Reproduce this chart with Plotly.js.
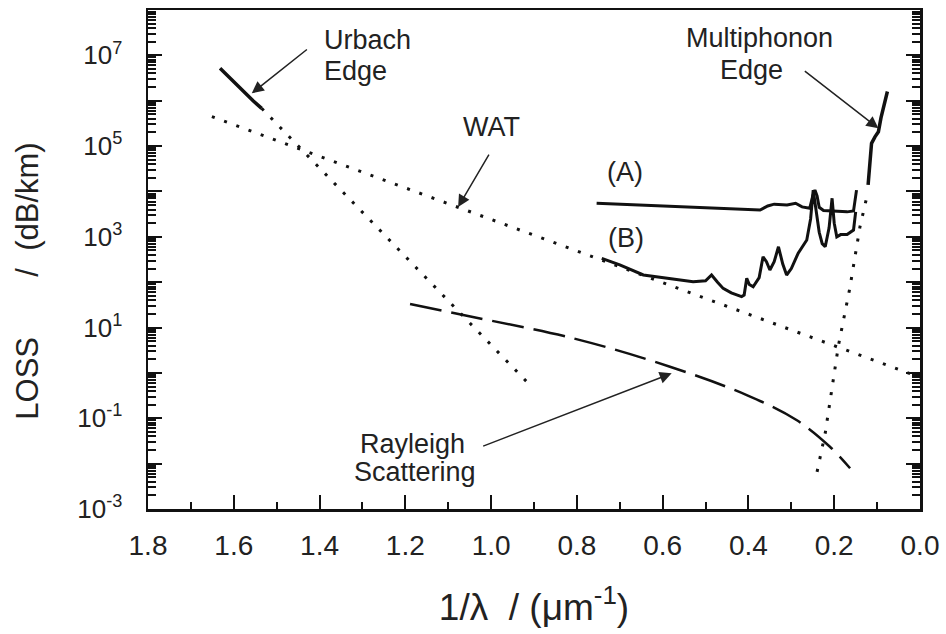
<!DOCTYPE html>
<html>
<head>
<meta charset="utf-8">
<script src="https://cdn.plot.ly/plotly-3.0.1.min.js"></script>
<style>html,body{margin:0;padding:0;background:#fff;}#chart{width:946px;height:634px;}</style>
</head>
<body>
<div id="chart"></div>
<script>
// ---- data (x = 1/lambda in um^-1, y = loss in dB/km) ----
const urbachX = [1.632, 1.615, 1.595, 1.575, 1.555, 1.535];
const urbachY = [5.2e6, 3.6e6, 2.4e6, 1.6e6, 1.0e6, 6.8e5];

const urbachFitX = [1.535, 0.917];
const urbachFitY = [6.8e5, 0.64];

const watX = [1.651, 0.0];
const watY = [4.45e5, 0.80];

const rayleighX = [1.189, 1.065, 0.808, 0.583, 0.404, 0.288, 0.210, 0.163];
const rayleighY = [33.1, 18.9, 5.78, 1.37, 0.325, 0.0914, 0.0236, 0.0079];

const multiFitX = [0.240, 0.221, 0.190, 0.164, 0.140, 0.124];
const multiFitY = [6.6e-3, 0.047, 4.1, 71, 1660, 7600];

const multiX = [0.121, 0.117, 0.113, 0.105, 0.097, 0.091, 0.084, 0.076];
const multiY = [1.39e4, 4.0e4, 1.15e5, 1.6e5, 2.07e5, 4.2e5, 8.0e5, 1.6e6];

const curveAX = [0.754, 0.70, 0.60, 0.50, 0.42, 0.373, 0.355, 0.34, 0.31, 0.29, 0.275, 0.257, 0.25, 0.245, 0.24, 0.235, 0.225, 0.20, 0.17, 0.155, 0.148];
const curveAY = [5500, 5250, 4800, 4370, 3980, 3890, 4790, 5250, 5010, 5500, 4570, 4270, 7940, 10700, 7940, 4470, 3800, 3630, 3550, 3720, 10700];

const curveBX = [0.742, 0.70, 0.645, 0.60, 0.529, 0.50, 0.486, 0.472, 0.459, 0.44, 0.416, 0.41, 0.404, 0.398, 0.389, 0.375, 0.366, 0.358, 0.350, 0.340, 0.330, 0.32, 0.311, 0.30, 0.284, 0.264, 0.255, 0.249, 0.243, 0.235, 0.228, 0.221, 0.212, 0.205, 0.200, 0.194, 0.185, 0.17, 0.155, 0.150];
const curveBY = [336, 240, 144, 126, 102, 107, 144, 100, 73, 58, 48, 52, 122, 89, 79, 126, 363, 282, 186, 282, 603, 251, 144, 200, 437, 851, 2510, 10700, 3980, 1260, 708, 603, 1580, 7080, 2000, 1000, 1120, 1120, 1410, 3550];

const xTicks = [1.8, 1.6, 1.4, 1.2, 1.0, 0.8, 0.6, 0.4, 0.2, 0.0];
const yDecades = [1e-3, 1e-2, 1e-1, 1e0, 1e1, 1e2, 1e3, 1e4, 1e5, 1e6, 1e7];
const yDecadeText = ['10<sup>-3</sup>', '', '10<sup>-1</sup>', '', '10<sup>1</sup>', '', '10<sup>3</sup>', '', '10<sup>5</sup>', '', '10<sup>7</sup>'];
const yRangeLog = [-3, 8];

// all log ticks: decades plus 2..9 in every decade; labels only on odd decades
const yAllVals = [];
const yAllText = [];
for (let e = -3; e <= 7; e++) {
  for (let d = 1; d <= 9; d++) {
    yAllVals.push(d * Math.pow(10, e));
    yAllText.push(d === 1 ? yDecadeText[e + 3] : '');
  }
}

// ---- chart ----
const INK = '#111';
const FONT = 'Liberation Sans, Arial, Helvetica, sans-serif';

const traces = [
  {x: watX, y: watY, mode: 'lines', line: {color: INK, width: 3, dash: '3px,10px'}},
  {x: urbachFitX, y: urbachFitY, mode: 'lines', line: {color: INK, width: 3, dash: '3px,10px'}},
  {x: multiFitX, y: multiFitY, mode: 'lines', line: {color: INK, width: 3, dash: '3px,10px'}},
  {x: rayleighX, y: rayleighY, mode: 'lines', line: {color: INK, width: 2.5, dash: '32px,10px', shape: 'spline'}},
  {x: urbachX, y: urbachY, mode: 'lines', line: {color: INK, width: 3.5}},
  {x: multiX, y: multiY, mode: 'lines', line: {color: INK, width: 3.5}},
  {x: curveAX, y: curveAY, mode: 'lines', line: {color: INK, width: 3}},
  {x: curveBX, y: curveBY, mode: 'lines', line: {color: INK, width: 3}},
  // invisible helper so the long-decade-tick overlay axis is drawn
  {x: watX, y: watY, yaxis: 'y2', mode: 'markers', marker: {opacity: 0}, hoverinfo: 'skip'}
];

function txt(text, x, y, xanchor) {
  return {x: x, y: y, xref: 'x', yref: 'y', text: text, showarrow: false,
          xanchor: xanchor || 'center', yanchor: 'middle',
          font: {family: FONT, size: 27, color: '#222'}};
}
function arrow(hx, hy, tx, ty) {
  return {x: hx, y: hy, ax: tx, ay: ty, xref: 'x', yref: 'y', axref: 'x', ayref: 'y',
          text: '', showarrow: true, arrowhead: 2, arrowsize: 1.6, arrowwidth: 1.5, arrowcolor: '#222'};
}

const NB = n => '&nbsp;'.repeat(n);

const layout = {
  width: 946, height: 634,
  margin: {l: 148, r: 26, t: 10, b: 125},
  paper_bgcolor: '#fff', plot_bgcolor: '#fff',
  showlegend: false,
  font: {family: FONT, color: '#222'},
  xaxis: {
    range: [1.8, 0.0], tickmode: 'array', tickvals: xTicks, tickformat: '.1f',
    ticks: 'inside', ticklen: 14, tickwidth: 2, tickcolor: INK,
    minor: {dtick: 0.1, ticks: 'inside', ticklen: 7, tickwidth: 2, tickcolor: INK},
    showline: true, linewidth: 2.5, linecolor: INK, mirror: true,
    showgrid: false, zeroline: false,
    tickfont: {family: FONT, size: 28, color: '#222'},
    ticklabelstandoff: 10,
    title: {text: '1/λ' + NB(2) + '/' + NB(1) + '(μm<sup>-1</sup>)', font: {family: FONT, size: 37, color: '#222'}, standoff: 34}
  },
  yaxis: {
    type: 'log', range: yRangeLog, tickmode: 'array', tickvals: yAllVals, ticktext: yAllText,
    ticks: 'inside', ticklen: 8, tickwidth: 2, tickcolor: INK,
    showline: true, linewidth: 2.5, linecolor: INK, mirror: 'ticks',
    showgrid: false, zeroline: false,
    tickfont: {family: FONT, size: 26, color: '#222'},
    ticklabelstandoff: 18,
    title: {text: 'LOSS' + NB(7) + '/' + NB(2) + '(dB/km)' + NB(5), font: {family: FONT, size: 31, color: '#222'}, standoff: 30}
  },
  yaxis2: {
    type: 'log', range: yRangeLog, overlaying: 'y', side: 'left', anchor: 'x',
    tickmode: 'array', tickvals: yDecades, showticklabels: false,
    ticks: 'inside', ticklen: 14, tickwidth: 2, tickcolor: INK,
    showline: true, linewidth: 2.5, linecolor: INK, mirror: 'ticks',
    showgrid: false, zeroline: false
  },
  annotations: [
    txt('Urbach', 1.394, 7.339, 'left'),
    txt('Edge', 1.394, 6.655, 'left'),
    arrow(1.558, 6.164, 1.426, 7.156),
    txt('WAT', 0.998, 5.421),
    arrow(1.077, 3.657, 1.003, 4.847),
    txt('(A)', 0.688, 4.429),
    txt('(B)', 0.686, 2.973),
    txt('Multiphonon', 0.375, 7.38),
    txt('Edge', 0.392, 6.677),
    arrow(0.097, 5.392, 0.272, 6.677),
    txt('Rayleigh', 1.184, -1.568),
    txt('Scattering', 1.177, -2.185),
    arrow(0.579, -0.009, 1.022, -1.627)
  ]
};

Plotly.newPlot('chart', traces, layout, {staticPlot: true, displayModeBar: false});
</script>
</body>
</html>
